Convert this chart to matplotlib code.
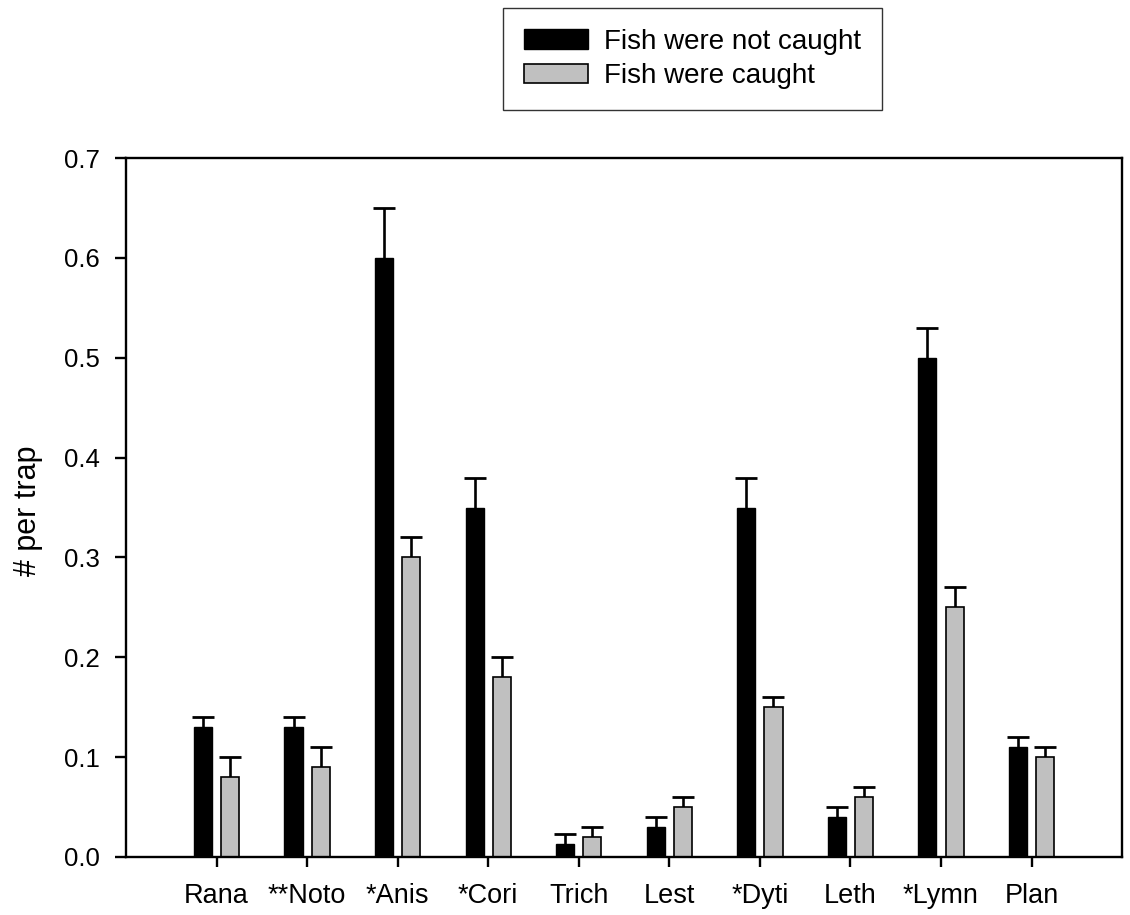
import numpy as np
import matplotlib
matplotlib.use('Agg')
import matplotlib.pyplot as plt

plt.rcParams['font.family'] = ['Liberation Sans', 'DejaVu Sans']

# datos
taxa = ['Rana', '**Noto', '*Anis', '*Cori', 'Trich',
        'Lest', '*Dyti', 'Leth', '*Lymn', 'Plan']
not_caught = [0.13, 0.13, 0.60, 0.35, 0.013, 0.03, 0.35, 0.04, 0.50, 0.11]
not_caught_err = [0.01, 0.01, 0.05, 0.03, 0.010, 0.01, 0.03, 0.01, 0.03, 0.01]
caught = [0.08, 0.09, 0.30, 0.18, 0.02, 0.05, 0.15, 0.06, 0.25, 0.10]
caught_err = [0.02, 0.02, 0.02, 0.02, 0.01, 0.01, 0.01, 0.01, 0.02, 0.01]

x = np.arange(len(taxa))
w = 0.2
off = 0.15

fig = plt.figure(figsize=(11.3, 9.15), dpi=100)
ax = fig.add_axes([0.1115, 0.0634, 0.8815, 0.7639])

ax.bar(x - off, not_caught, w, color='black', edgecolor='black', linewidth=1,
       label='Fish were not caught', zorder=2)
ax.bar(x + off, caught, w, color='#c0c0c0', edgecolor='black', linewidth=1.2,
       label='Fish were caught', zorder=2)

# barras de error solo hacia arriba, sin tapa inferior
for xs, ys, es in [(x - off, not_caught, not_caught_err),
                   (x + off, caught, caught_err)]:
    eb = ax.errorbar(xs, ys, yerr=[np.zeros(len(xs)), es], fmt='none',
                     ecolor='black', elinewidth=1.9, capsize=7.9,
                     capthick=2, zorder=1)
    eb[1][0].set_visible(False)

ax.set_xlim(-1, 10)
ax.set_ylim(0, 0.7)
ax.set_xticks(x)
ax.set_xticklabels(taxa)
ax.set_yticks(np.arange(0, 0.71, 0.1))
ax.set_yticklabels(['%.1f' % v for v in np.arange(0, 0.71, 0.1)])

for s in ax.spines.values():
    s.set_linewidth(1.7)
ax.tick_params(axis='both', direction='out', length=8, width=1.7,
               labelsize=18.5, pad=11)
ax.tick_params(axis='x', labelsize=19.5, length=7.5)

ax.set_ylabel('# per trap', fontsize=22)
ax.yaxis.set_label_coords(-0.083, 0.495)

leg = fig.legend(loc='upper left', bbox_to_anchor=(503 / 1130, 1 - 8 / 915),
                 bbox_transform=fig.transFigure, borderaxespad=0,
                 fontsize=20, fancybox=False, frameon=True,
                 handlelength=2.3, handleheight=0.72, handletextpad=0.58,
                 borderpad=0.75, labelspacing=0.3)
leg.get_frame().set_edgecolor('black')
leg.get_frame().set_linewidth(1)

fig.savefig('out.png', dpi=100)
